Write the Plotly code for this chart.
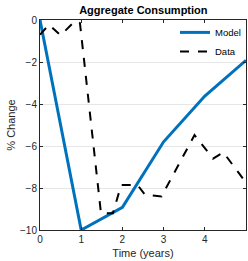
import plotly.graph_objects as go

model_x = [0, 1, 2, 3, 4, 5]
model_y = [0, -10, -8.92, -5.8, -3.62, -1.92]

data_x = [0, 0.22, 0.5, 0.85, 0.97, 1.48, 1.77, 1.97, 2.37, 2.55, 2.95, 3.75, 4.2, 4.45, 5.0]
data_y = [-0.7, -0.22, -0.73, -0.05, -0.15, -9.2, -9.2, -7.86, -7.86, -8.33, -8.4, -5.48, -6.6, -6.3, -7.75]

x_ticks = [0, 1, 2, 3, 4, 5]
y_ticks = [0, -2, -4, -6, -8, -10]

font = "Liberation Sans, Arial, sans-serif"

fig = go.Figure()
fig.add_trace(go.Scatter(x=model_x, y=model_y, mode="lines", name="Model",
                         line=dict(color="#0072BD", width=3)))
fig.add_trace(go.Scatter(x=data_x, y=data_y, mode="lines", name="Data",
                         line=dict(color="black", width=2, dash="dash")))

axis_common = dict(showline=True, linecolor="#262626", linewidth=1, mirror="ticks",
                   ticks="inside", ticklen=3, tickcolor="#262626", zeroline=False,
                   automargin=False,
                   tickfont=dict(family=font, size=10, color="#262626"))

fig.update_layout(
    width=248, height=261,
    margin=dict(l=40, r=2, t=20, b=31),
    paper_bgcolor="white", plot_bgcolor="white",
    title=dict(text="<b>Aggregate Consumption</b>", x=0.578, xanchor="center",
               y=0.962, yanchor="middle",
               font=dict(family=font, size=11, color="black")),
    xaxis=dict(range=[0, 5], tickvals=x_ticks, showgrid=False,
               title=dict(text="Time (years)", font=dict(family=font, size=11, color="#262626"), standoff=5),
               **axis_common),
    yaxis=dict(range=[-10, 0], tickvals=y_ticks, showgrid=True, gridcolor="#e6e6e6",
               title=dict(text="% Change", font=dict(family=font, size=11, color="#262626"), standoff=2),
               **axis_common),
    legend=dict(x=1.0, y=1.01, xanchor="right", yanchor="top",
                bgcolor="rgba(0,0,0,0)", borderwidth=0,
                font=dict(family=font, size=9.5, color="black"),
                tracegroupgap=0, itemwidth=30),
    showlegend=True,
)

fig.write_html("out.html", config={"displayModeBar": False},
               post_script="document.body.style.margin='0';document.body.style.overflow='hidden';")
